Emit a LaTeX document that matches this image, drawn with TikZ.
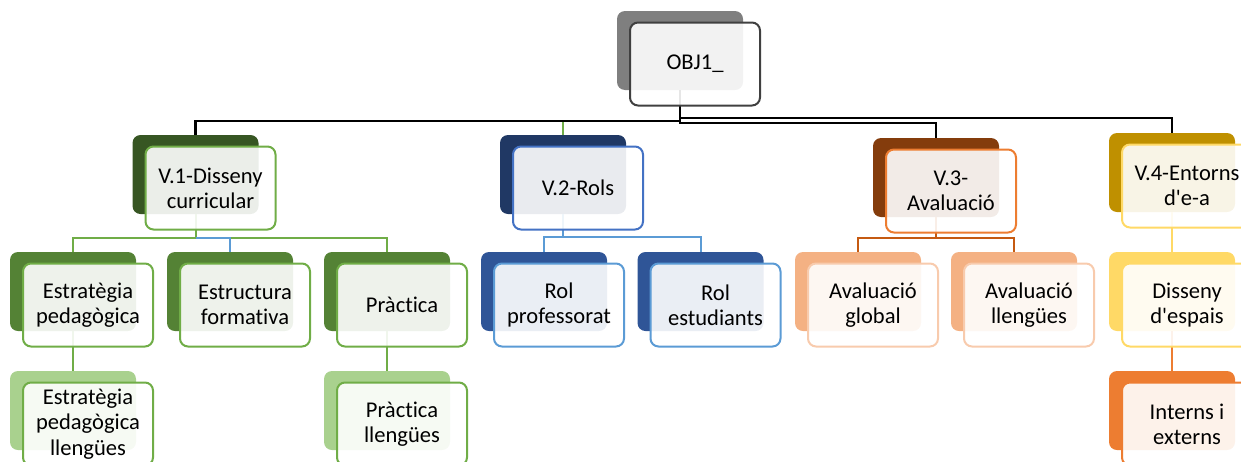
\documentclass[tikz,border=0pt]{standalone}
\usepackage{fontspec}
\setmainfont{Carlito}[Ligatures={TeXOff,NoCommon}]
\usetikzlibrary{calc}

% palette
\definecolor{objrear}{HTML}{7F7F7F}
\definecolor{objedge}{HTML}{404040}
\definecolor{grDark}{HTML}{375623}
\definecolor{grMid}{HTML}{548235}
\definecolor{grLight}{HTML}{A9D18E}
\definecolor{grEdge}{HTML}{70AD47}
\definecolor{blDark}{HTML}{203864}
\definecolor{blDarkEdge}{HTML}{4472C4}
\definecolor{blMid}{HTML}{2F5597}
\definecolor{blEdge}{HTML}{5B9BD5}
\definecolor{orDark}{HTML}{843C0C}
\definecolor{orEdge}{HTML}{ED7D31}
\definecolor{orLight}{HTML}{F4B183}
\definecolor{orLightEdge}{HTML}{F8CBAD}
\definecolor{orLink}{HTML}{C55A11}
\definecolor{yeDark}{HTML}{BF9000}
\definecolor{yeMid}{HTML}{FFD966}

\begin{document}
\begin{tikzpicture}[x=0.75pt,y=-0.75pt,
  rear/.style={rounded corners=6pt, minimum width=94.5pt, minimum height=59.25pt,
               inner sep=0pt, draw=none},
  face/.style={rounded corners=6pt, minimum width=97.5pt, minimum height=62.25pt,
               inner sep=0pt, line width=1.5pt, fill=white, fill opacity=0.9,
               text opacity=1, align=center, font=\fontsize{16.9}{19}\selectfont},
  link/.style={line width=1.5pt},
  bus/.style={line width=1.8pt, draw=black}]

\clip (0,0) rectangle (1241,461);

% ---- rear (shadow) plates ----
\node[rear, fill=objrear] (objB) at (680,50.5) {};
\node[rear, fill=grDark]  (v1B)  at (195.5,174.5) {};
\node[rear, fill=blDark]  (v2B)  at (563,174.5) {};
\node[rear, fill=orDark]  (v3B)  at (936,177.5) {};
\node[rear, fill=yeDark]  (v4B)  at (1172,172.5) {};

\node[rear, fill=grMid]   (estB)  at (73,291.5) {};
\node[rear, fill=grMid]   (strB)  at (230,291.5) {};
\node[rear, fill=grMid]   (praB)  at (387,291.5) {};
\node[rear, fill=blMid]   (rprB)  at (544,291.5) {};
\node[rear, fill=blMid]   (restB) at (700.5,291.5) {};
\node[rear, fill=orLight] (avgB)  at (858,291.5) {};
\node[rear, fill=orLight] (avlB)  at (1014,291.5) {};
\node[rear, fill=yeMid]   (disB)  at (1172,291.5) {};

\node[rear, fill=grLight] (estlB) at (73,410.5) {};
\node[rear, fill=grLight] (pralB) at (387,410.5) {};
\node[rear, fill=orEdge]  (intB)  at (1172,410.5) {};

% ---- connectors ----
\draw[link, grEdge] (objB.south) |- ($(v2B.north)+(0,-14)$) -- (v2B.north);
\draw[bus] (objB.south) |- ($(v1B.north)+(0,-14)$) -- (v1B.north);
\draw[bus] (objB.south) |- ($(v3B.north)+(0,-15)$) -- (v3B.north);
\draw[bus] (objB.south) |- ($(v4B.north)+(0,-14.5)$) -- (v4B.north);

\draw[link, grEdge] (v1B.south) |- ($(estB.north)+(0,-14)$) -- (estB.north);
\draw[link, grEdge] (v1B.south) |- ($(praB.north)+(0,-14)$) -- (praB.north);
\draw[link, blEdge] (v1B.south |- strB.north) ++(0,-14) -| (strB.north);

\draw[link, blEdge] (v2B.south) |- ($(rprB.north)+(0,-15)$) -- (rprB.north);
\draw[link, blEdge] (v2B.south) |- ($(restB.north)+(0,-15)$) -- (restB.north);

\draw[link, orLink] (v3B.south) |- ($(avgB.north)+(0,-14)$) -- (avgB.north);
\draw[link, orLink] (v3B.south) |- ($(avlB.north)+(0,-14)$) -- (avlB.north);

\draw[link, yeMid] (v4B.south) -- (disB.north);
\draw[link, orEdge] (disB.south) -- (intB.north);

\draw[link, grEdge] (estB.south) -- (estlB.north);
\draw[link, grEdge] (praB.south) -- (pralB.north);

% ---- front plates with labels ----
\node[face, draw=objedge] (obj) at ($(objB)+(15,13.5)$) {OBJ1\_};
\node[face, draw=grEdge] (v1) at ($(v1B)+(15,13.5)$) {V.1-Disseny\\curricular};
\node[face, draw=blDarkEdge] (v2) at ($(v2B)+(15,13.5)$) {V.2-Rols};
\node[face, draw=orEdge] (v3) at ($(v3B)+(15,13.5)$) {V.3-\\Avaluació};
\node[face, draw=yeMid] (v4) at ($(v4B)+(15,13.5)$) {V.4-Entorns\\d'e-a};

\node[face, draw=grEdge] (est) at ($(estB)+(15,13.5)$) {Estratègia\\pedagògica};
\node[face, draw=grEdge] (str) at ($(strB)+(15,13.5)$) {Estructura\\formativa};
\node[face, draw=grEdge] (pra) at ($(praB)+(15,13.5)$) {Pràctica};
\node[face, draw=blEdge] (rpr) at ($(rprB)+(15,13.5)$) {Rol\\professorat};
\node[face, draw=blEdge] (rest) at ($(restB)+(15,13.5)$) {Rol\\estudiants};
\node[face, draw=orLightEdge] (avg) at ($(avgB)+(15,13.5)$) {Avaluació\\global};
\node[face, draw=orLightEdge] (avl) at ($(avlB)+(15,13.5)$) {Avaluació\\llengües};
\node[face, draw=yeMid] (dis) at ($(disB)+(15,13.5)$) {Disseny\\d'espais};

\node[face, draw=grEdge] (estl) at ($(estlB)+(15,13.5)$) {Estratègia\\pedagògica\\llengües};
\node[face, draw=grEdge] (pral) at ($(pralB)+(15,13.5)$) {Pràctica\\llengües};
\node[face, draw=orEdge] (int) at ($(intB)+(15,13.5)$) {Interns i\\externs};

\end{tikzpicture}
\end{document}
